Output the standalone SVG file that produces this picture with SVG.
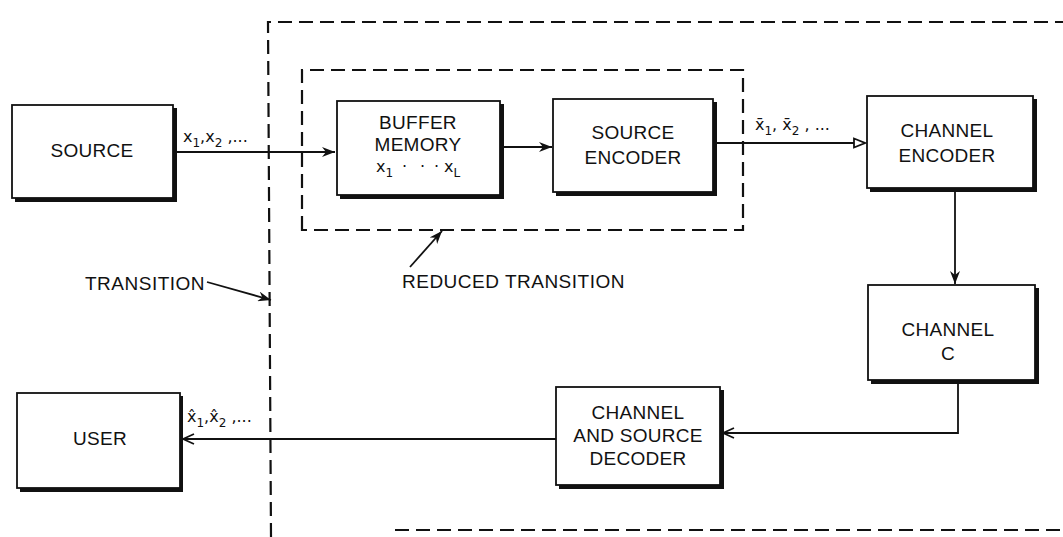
<svg xmlns="http://www.w3.org/2000/svg" width="1063" height="537" viewBox="0 0 1063 537">
<style>
.box{fill:#fff;stroke:#111;stroke-width:1.8}
.sh{fill:#111}
.t{font-family:"Liberation Sans",Arial,sans-serif;font-size:19px;fill:#111;text-anchor:middle;letter-spacing:0.3px}
.tl{font-family:"Liberation Sans",Arial,sans-serif;font-size:19px;fill:#111;letter-spacing:0.5px}
.lab{font-family:"DejaVu Sans",sans-serif;font-size:16px;fill:#111}
.sub{font-size:12px}
.ln{fill:none;stroke:#111;stroke-width:1.8}
.dash{fill:none;stroke:#111;stroke-width:2.2;stroke-dasharray:14 7}
</style>
<defs>
<marker id="fa" markerWidth="14" markerHeight="10" refX="13" refY="5" orient="auto" markerUnits="userSpaceOnUse">
<path d="M0,0 L13,5 L0,10 L4,5 Z" fill="#111"/>
</marker>
<marker id="oa" markerWidth="14" markerHeight="12" refX="12" refY="6" orient="auto" markerUnits="userSpaceOnUse">
<path d="M1,1 L12,6 L1,11" fill="none" stroke="#111" stroke-width="1.8"/>
</marker>
<marker id="ot" markerWidth="14" markerHeight="12" refX="12" refY="6" orient="auto" markerUnits="userSpaceOnUse">
<path d="M1,1.5 L12,6 L1,10.5 Z" fill="#fff" stroke="#111" stroke-width="1.8"/>
</marker>
</defs>

<g id="boundaries">
<path class="dash" d="M271,537 L268,22 L1063,22"/>
<path class="dash" d="M395,530 L1063,530"/>
<path class="dash" d="M302,230 L302,70 L743,70 L743,230 Z"/>
</g>

<g id="connectors">
<line class="ln" x1="173" y1="152" x2="335" y2="152" marker-end="url(#fa)"/>
<line class="ln" x1="500" y1="147" x2="552" y2="147" marker-end="url(#fa)"/>
<line class="ln" x1="713" y1="143" x2="865" y2="143" marker-end="url(#ot)"/>
<line class="ln" x1="955" y1="188" x2="955" y2="284" marker-end="url(#fa)"/>
<polyline class="ln" points="958,383 958,433 723,433" marker-end="url(#oa)"/>
<line class="ln" x1="556" y1="439" x2="183" y2="439" marker-end="url(#oa)"/>
<line class="ln" x1="207" y1="282" x2="271" y2="300" marker-end="url(#fa)"/>
<line class="ln" x1="410" y1="267" x2="442" y2="231" marker-end="url(#fa)"/>
</g>

<g id="source">
<rect class="sh" x="15" y="108" width="162" height="94"/>
<rect class="box" x="12" y="105" width="161" height="93"/>
<text class="t" x="92" y="157">SOURCE</text>
</g>

<g id="buffer">
<rect class="sh" x="340" y="104" width="164" height="95"/>
<rect class="box" x="337" y="101" width="163" height="94"/>
<text class="t" x="418" y="129">BUFFER</text>
<text class="t" x="418" y="151">MEMORY</text>
<text class="lab" x="376" y="172">x<tspan class="sub" dy="5">1</tspan><tspan dy="-5" x="402">·</tspan><tspan x="420">·</tspan><tspan x="434">·</tspan><tspan x="444">x</tspan><tspan class="sub" dy="5">L</tspan></text>
</g>

<g id="source-encoder">
<rect class="sh" x="556" y="102" width="161" height="94"/>
<rect class="box" x="553" y="99" width="160" height="93"/>
<text class="t" x="633" y="139">SOURCE</text>
<text class="t" x="633" y="164">ENCODER</text>
</g>

<g id="channel-encoder">
<rect class="sh" x="870" y="99" width="167" height="93"/>
<rect class="box" x="867" y="96" width="166" height="92"/>
<text class="t" x="947" y="137">CHANNEL</text>
<text class="t" x="947" y="162">ENCODER</text>
</g>

<g id="channel">
<rect class="sh" x="871" y="288" width="168" height="96"/>
<rect class="box" x="868" y="285" width="167" height="95"/>
<text class="t" x="948" y="336">CHANNEL</text>
<text class="t" x="948" y="360">C</text>
</g>

<g id="decoder">
<rect class="sh" x="559" y="390" width="165" height="99"/>
<rect class="box" x="556" y="387" width="164" height="98"/>
<text class="t" x="638" y="419">CHANNEL</text>
<text class="t" x="638" y="442">AND SOURCE</text>
<text class="t" x="638" y="465">DECODER</text>
</g>

<g id="user">
<rect class="sh" x="20" y="396" width="163" height="96"/>
<rect class="box" x="17" y="393" width="163" height="95"/>
<text class="t" x="100" y="445">USER</text>
</g>

<g id="labels">
<text class="lab" x="183" y="142">x<tspan class="sub" dy="5">1</tspan><tspan dy="-5">,x</tspan><tspan class="sub" dy="5">2</tspan><tspan dy="-5"> ,...</tspan></text>
<text class="lab" x="755" y="130">x̄<tspan class="sub" dy="5">1</tspan><tspan dy="-5">, x̄</tspan><tspan class="sub" dy="5">2</tspan><tspan dy="-5"> , ...</tspan></text>
<text class="lab" x="187" y="422">x̂<tspan class="sub" dy="5">1</tspan><tspan dy="-5">,x̂</tspan><tspan class="sub" dy="5">2</tspan><tspan dy="-5"> ,...</tspan></text>
<text class="tl" x="85" y="290">TRANSITION</text>
<text class="tl" x="402" y="288">REDUCED  TRANSITION</text>
</g>
</svg>
